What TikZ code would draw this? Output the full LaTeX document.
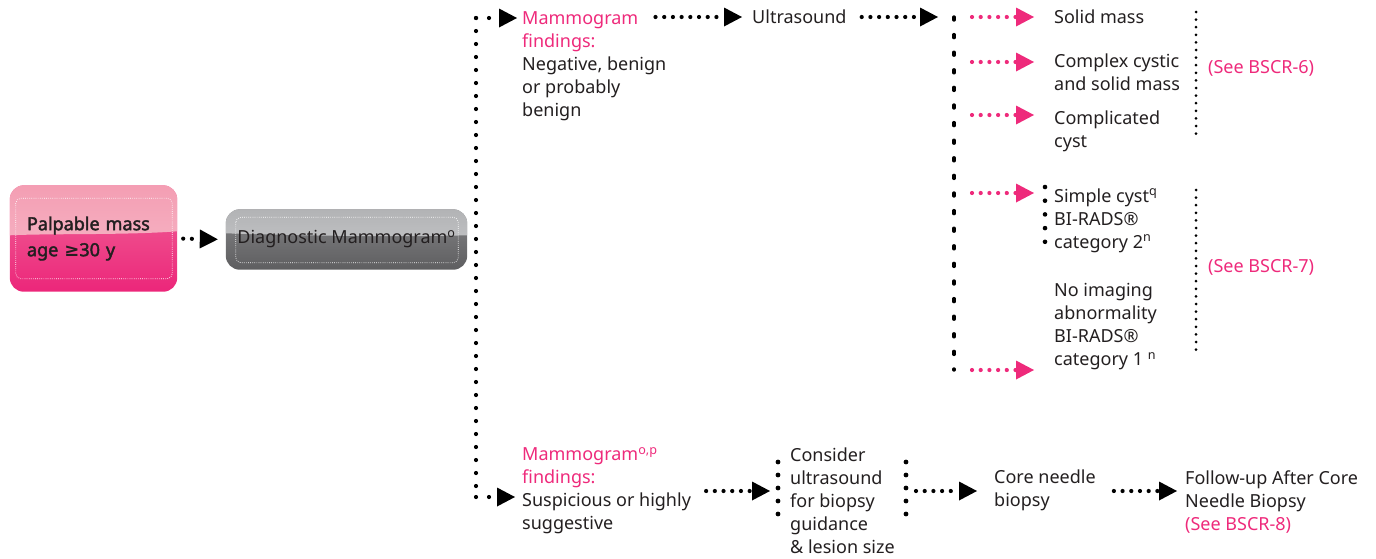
\documentclass[tikz,border=0pt]{standalone}
\usepackage{fontspec}
\setmainfont{Noto Sans}
\newfontfamily\headfont{Noto Sans}[AutoFakeBold=2.2]
\newfontfamily\symbolfont{DejaVu Sans}
\usetikzlibrary{arrows.meta,calc,backgrounds}

\definecolor{ink}{HTML}{231F20}
\definecolor{hotpink}{HTML}{EE2A7B}
\definecolor{pinktop}{HTML}{F49EB3}
\definecolor{pinkgloss}{HTML}{F5ADBF}
\definecolor{pinkmid}{HTML}{F06698}
\definecolor{pinkbot}{HTML}{EC267A}
\definecolor{graytop}{HTML}{B2B3B5}
\definecolor{graygloss}{HTML}{BEBFC1}
\definecolor{graymid}{HTML}{848486}
\definecolor{graybot}{HTML}{5E5E60}

\tikzset{
  txt/.style={anchor=west, inner sep=0pt, align=left, text=ink,
    font=\fontsize{18}{23}\selectfont},
  pinktxt/.style={txt, text=hotpink},
  boxnode/.style={rectangle, inner sep=0pt, align=left, text=ink},
  innerdots/.style={white, line width=0.7pt, dash pattern=on 0.7pt off 1.4pt,
    rounded corners=5pt},
  dots/.style={line width=4.2pt, line cap=round, dash pattern=on 0pt off 8.7pt},
  stemdots/.style={line width=4.2pt, line cap=round, dash pattern=on 0pt off 13pt},
  longdots/.style={line width=3.4pt, line cap=round, dash pattern=on 3pt off 14.6pt},
  finedots/.style={line width=3pt, line cap=round, dash pattern=on 0pt off 7.6pt},
  bracketdots/.style={line width=4.8pt, line cap=round, dash pattern=on 0pt off 13pt},
  tip/.style={-{Triangle[length=18pt,width=19pt,line width=0pt]}},
  dotarrow/.style={dots, tip},
  stemarrow/.style={stemdots, tip},
  pinkarrow/.style={dots, tip, hotpink},
}

\begin{document}
\begin{tikzpicture}[x=1pt,y=-1pt]
\useasboundingbox (0,0) rectangle (1376,558);

% ---- entry boxes ----
\node[boxnode, minimum width=167pt, minimum height=106pt, text width=133pt,
      inner xsep=17pt, font=\headfont\bfseries\fontsize{18}{26}\selectfont]
      (palp) at (93.5,238.5) {Palpable mass\\age {\symbolfont\bfseries ≥}30 y};
\node[boxnode, minimum width=241pt, minimum height=60pt,
      font=\fontsize{18}{23}\selectfont]
      (diag) at (346.5,239.5) {Diagnostic Mammogram\textsuperscript{o}};

\begin{scope}[on background layer]
  \begin{scope}
    \clip[rounded corners=14pt] (palp.north west) rectangle (palp.south east);
    \shade[top color=pinkmid, bottom color=pinkbot]
      (palp.north west) rectangle (palp.south east);
    \shade[top color=pinktop, bottom color=pinkgloss]
      (palp.north west) -- (palp.north east) -- ($(palp.north east)+(0,46)$)
      .. controls ($(palp.north)+(30,50)$) and ($(palp.north)+(-40,48)$)
      .. ($(palp.north west)+(0,50)$) -- cycle;
  \end{scope}
  \draw[innerdots] ($(palp.north west)+(6,13)$) rectangle ($(palp.south east)+(-5,-13)$);

  \begin{scope}
    \clip[rounded corners=14pt] (diag.north west) rectangle (diag.south east);
    \shade[top color=graymid, bottom color=graybot]
      (diag.north west) rectangle (diag.south east);
    \shade[top color=graytop, bottom color=graygloss]
      (diag.north west) -- (diag.north east) -- ($(diag.north east)+(0,26)$)
      .. controls ($(diag.north)+(40,28)$) and ($(diag.north)+(-60,26)$)
      .. ($(diag.north west)+(0,24)$) -- cycle;
  \end{scope}
  \draw[innerdots] ($(diag.north west)+(10,8)$) rectangle ($(diag.south east)+(-9,-7)$);
\end{scope}

\draw[dotarrow, shorten <=6pt, shorten >=8pt] (palp.east) -- (diag.west);

% ---- main stem ----
\coordinate (t1) at (476,18);
\coordinate (t2) at (476,497);
\draw[stemdots] (t1) -- (t2);

\node[txt] (mneg) at (522,66) {\textcolor{hotpink}{Mammogram}\\\textcolor{hotpink}{findings:}\\Negative, benign\\or probably\\benign};
\node[txt] (msusp) at (522,490.5) {\textcolor{hotpink}{Mammogram\textsuperscript{o,p}}\\\textcolor{hotpink}{findings:}\\Suspicious or highly\\suggestive};

\draw[stemarrow, shorten >=5pt] (t1) -- (t1 -| mneg.west);
\draw[stemarrow, shorten >=7pt] (t2) -- (t2 -| msusp.west);

% ---- upper branch ----
\node[txt] (us) at (752,17) {Ultrasound};
\coordinate (v1) at (954,17);
\coordinate (v2) at (954,370);
\draw[dotarrow] ($(us.west -| mneg.east)+(-11,0)$) -- ([xshift=-10pt]us.west);
\draw[dotarrow, shorten <=15pt, shorten >=16pt] (us.east) -- (v1);
\draw[longdots] (v1) -- (v2);

\node[txt] (solid) at (1054,17) {Solid mass};
\node[txt] (complex) at (1054,72.5) {Complex cystic\\and solid mass};
\node[txt] (complicated) at (1054,131) {Complicated\\cyst};
\node[txt] (simple) at (1054,220.5) {Simple cyst\textsuperscript{q}\\BI-RADS®\\category 2\textsuperscript{n}};
\node[txt] (noimg) at (1054,327) {No imaging\\abnormality\\BI-RADS®\\category 1 \textsuperscript{n}};

\coordinate (b1) at (954,17);
\coordinate (b2) at (954,62);
\coordinate (b3) at (954,115);
\coordinate (b4) at (954,193);
\draw[pinkarrow, shorten <=18pt, shorten >=20pt] (b1) -- (b1 -| solid.west);
\draw[pinkarrow, shorten <=18pt, shorten >=20pt] (b2) -- (b2 -| complex.west);
\draw[pinkarrow, shorten <=18pt, shorten >=20pt] (b3) -- (b3 -| complicated.west);
\draw[pinkarrow, shorten <=18pt, shorten >=20pt] (b4) -- (b4 -| simple.west);
\draw[pinkarrow, shorten <=18pt, shorten >=20pt] (v2) -- (v2 -| noimg.west);

\coordinate (sc1) at (1045,187);
\coordinate (sc2) at (1045,242);
\draw[bracketdots, dash pattern=on 0pt off 13.7pt, line width=4.6pt] (sc1) -- (sc2);

\coordinate (r6a) at (1196,12);
\coordinate (r6b) at (1196,134);
\coordinate (r7a) at (1196,190);
\coordinate (r7b) at (1196,355);
\draw[finedots] (r6a) -- (r6b);
\draw[finedots] (r7a) -- (r7b);
\node[pinktxt] (see6) at (1208,68) {(See BSCR-6)};
\node[pinktxt] (see7) at (1208,267) {(See BSCR-7)};

% ---- lower branch ----
\node[txt] (consider) at (790,501) {Consider\\ultrasound\\for biopsy\\guidance\\\& lesion size};
\coordinate (c1) at (778,462);
\coordinate (c2) at (778,515);
\coordinate (cm) at (778,491);
\draw[bracketdots] (c1) -- (c2);
\draw[dotarrow, shorten <=15pt, shorten >=8pt] (cm -| msusp.east) -- (cm);

\node[txt] (core) at (994,490.5) {Core needle\\biopsy};
\coordinate (d1) at (906,462);
\coordinate (d2) at (906,514);
\coordinate (dm) at (906,491);
\draw[bracketdots] (d1) -- (d2);
\draw[dotarrow, shorten <=10pt, shorten >=17pt] (dm) -- (dm -| core.west);

\node[txt] (follow) at (1185,502) {Follow-up After Core\\Needle Biopsy\\\textcolor{hotpink}{(See BSCR-8)}};
\draw[dotarrow, shorten <=18pt, shorten >=8pt] (dm -| core.east) -- (dm -| follow.west);
\end{tikzpicture}
\end{document}
